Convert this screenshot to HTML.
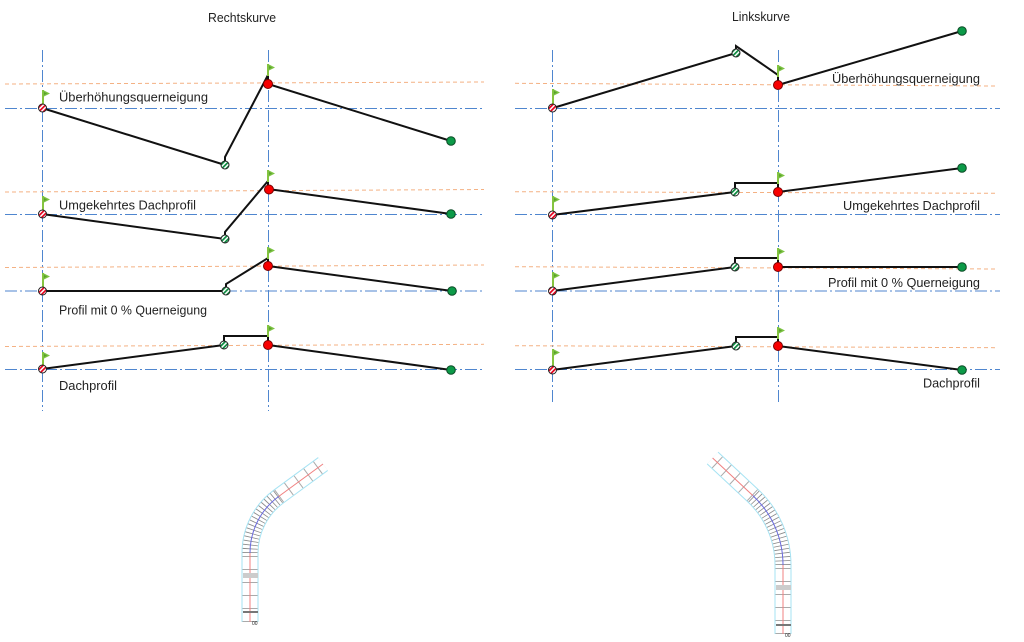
<!DOCTYPE html>
<html><head><meta charset="utf-8"><style>
html,body{margin:0;padding:0;background:#fff;}
svg{display:block;}
text{font-family:"Liberation Sans",sans-serif;font-size:13px;fill:#222;}
</style></head><body>
<svg width="1024" height="642" viewBox="0 0 1024 642" xmlns="http://www.w3.org/2000/svg">
<defs>
<pattern id="hr" patternUnits="userSpaceOnUse" width="3.2" height="3.2" patternTransform="rotate(45)"><rect width="3.2" height="3.2" fill="#fff"/><rect width="1.7" height="3.2" fill="#e4001b"/></pattern>
<pattern id="hg" patternUnits="userSpaceOnUse" width="3.2" height="3.2" patternTransform="rotate(45)"><rect width="3.2" height="3.2" fill="#fff"/><rect width="1.7" height="3.2" fill="#0a8a3e"/></pattern>
<g id="flag"><line x1="0" y1="0" x2="0" y2="12" stroke="#86c440" stroke-width="2"/><path d="M0,0 L7,3.5 L0,7 Z" fill="#7cc242"/><path d="M1,2 L4,3.5 L1,5Z" fill="#5aa02c"/></g>
<g id="sflag"><line x1="0" y1="0" x2="0" y2="17" stroke="#86c440" stroke-width="2"/><path d="M0,0 L7,3.5 L0,7 Z" fill="#7cc242"/><path d="M1,2 L4,3.5 L1,5Z" fill="#5aa02c"/></g>
</defs>

<text x="208" y="22" textLength="68" lengthAdjust="spacingAndGlyphs">Rechtskurve</text>
<text x="732" y="21" textLength="58" lengthAdjust="spacingAndGlyphs">Linkskurve</text>

<g stroke="#4f86cf" stroke-width="1" stroke-dasharray="12 3 2 3" fill="none">
<line x1="42.5" y1="50" x2="42.5" y2="411"/>
<line x1="268.5" y1="50" x2="268.5" y2="411"/>
<line x1="552.5" y1="50" x2="552.5" y2="405"/>
<line x1="778.5" y1="50" x2="778.5" y2="405"/>
<line x1="5" y1="108.5" x2="484" y2="108.5"/>
<line x1="5" y1="214.5" x2="484" y2="214.5"/>
<line x1="5" y1="291" x2="484" y2="291"/>
<line x1="5" y1="369.5" x2="484" y2="369.5"/>
<line x1="515" y1="108.5" x2="1000" y2="108.5"/>
<line x1="515" y1="214.5" x2="1000" y2="214.5"/>
<line x1="515" y1="291" x2="1000" y2="291"/>
<line x1="515" y1="369.5" x2="1000" y2="369.5"/>
</g>
<g stroke="#f4b183" stroke-width="1" stroke-dasharray="4 3" fill="none">
<line x1="5" y1="84" x2="484" y2="82"/>
<line x1="5" y1="192" x2="484" y2="189.5"/>
<line x1="5" y1="267.5" x2="484" y2="265"/>
<line x1="5" y1="346.5" x2="484" y2="344.3"/>
<line x1="515" y1="83.3" x2="995" y2="86"/>
<line x1="515" y1="191.7" x2="995" y2="193.3"/>
<line x1="515" y1="266.7" x2="995" y2="269"/>
<line x1="515" y1="345.7" x2="995" y2="347.7"/>
</g>

<g stroke="#111" stroke-width="2" fill="none" stroke-linejoin="miter">
<path d="M42,108 L225,165 L225,157 L268,75 L268,84 L451,141"/>
<path d="M42,214 L225,239 L225,232 L268,181 L268,189 L451,214"/>
<path d="M42,291 L226,291 L226,284 L268,258 L268,266 L452,291"/>
<path d="M42,369 L224,345 L224,336 L268,336 L268,345 L451,370"/>
<path d="M553,108 L736,53 L736,46 L778,75 L778,85 L962,31"/>
<path d="M552,215 L735,192 L735,183 L778,183 L778,192 L962,168"/>
<path d="M552,291 L735,267 L735,258 L778,258 L778,267 L962,267"/>
<path d="M552,370 L736,346 L736,337 L778,337 L778,346 L962,370"/>
</g>

<use href="#sflag" x="43" y="90"/>
<use href="#sflag" x="43" y="196"/>
<use href="#sflag" x="43" y="273"/>
<use href="#sflag" x="43" y="352"/>
<use href="#sflag" x="553" y="89"/>
<use href="#sflag" x="553" y="196"/>
<use href="#sflag" x="553" y="272"/>
<use href="#sflag" x="553" y="349"/>
<use href="#flag" x="268" y="64"/>
<use href="#flag" x="268" y="170"/>
<use href="#flag" x="268" y="247"/>
<use href="#flag" x="268" y="325"/>
<use href="#flag" x="778" y="65"/>
<use href="#flag" x="778" y="172"/>
<use href="#flag" x="778" y="248"/>
<use href="#flag" x="778" y="327"/>

<g stroke="#222" stroke-width="1">
<circle cx="42.5" cy="108" r="4" fill="url(#hr)"/>
<circle cx="42.5" cy="214" r="4" fill="url(#hr)"/>
<circle cx="42.5" cy="291" r="4" fill="url(#hr)"/>
<circle cx="42.5" cy="369" r="4" fill="url(#hr)"/>
<circle cx="552.5" cy="108" r="4" fill="url(#hr)"/>
<circle cx="552.5" cy="215" r="4" fill="url(#hr)"/>
<circle cx="552.5" cy="291" r="4" fill="url(#hr)"/>
<circle cx="552.5" cy="370" r="4" fill="url(#hr)"/>
<circle cx="225" cy="165" r="4" fill="url(#hg)"/>
<circle cx="225" cy="239" r="4" fill="url(#hg)"/>
<circle cx="226" cy="291" r="4" fill="url(#hg)"/>
<circle cx="224" cy="345" r="4" fill="url(#hg)"/>
<circle cx="736" cy="53" r="4" fill="url(#hg)"/>
<circle cx="735" cy="192" r="4" fill="url(#hg)"/>
<circle cx="735" cy="267" r="4" fill="url(#hg)"/>
<circle cx="736" cy="346" r="4" fill="url(#hg)"/>
</g>
<g stroke="#7a0000" stroke-width="1" fill="#f80000">
<circle cx="268" cy="84" r="4.5"/>
<circle cx="269" cy="189.5" r="4.5"/>
<circle cx="268" cy="266" r="4.5"/>
<circle cx="268" cy="345" r="4.5"/>
<circle cx="778" cy="85" r="4.5"/>
<circle cx="778" cy="192" r="4.5"/>
<circle cx="778" cy="267" r="4.5"/>
<circle cx="778" cy="346" r="4.5"/>
</g>
<g stroke="#0b4a25" stroke-width="1" fill="#0c9a48">
<circle cx="451" cy="141" r="4.3"/>
<circle cx="451" cy="214" r="4.3"/>
<circle cx="452" cy="291" r="4.3"/>
<circle cx="451" cy="370" r="4.3"/>
<circle cx="962" cy="31" r="4.3"/>
<circle cx="962" cy="168" r="4.3"/>
<circle cx="962" cy="267" r="4.3"/>
<circle cx="962" cy="370" r="4.3"/>
</g>

<text x="59" y="101.5" textLength="149" lengthAdjust="spacingAndGlyphs">Überhöhungsquerneigung</text>
<text x="59" y="209.5" textLength="137" lengthAdjust="spacingAndGlyphs">Umgekehrtes Dachprofil</text>
<text x="59" y="314.3" textLength="148" lengthAdjust="spacingAndGlyphs">Profil mit 0 % Querneigung</text>
<text x="59" y="390" textLength="58" lengthAdjust="spacingAndGlyphs">Dachprofil</text>
<text x="832" y="83" textLength="148" lengthAdjust="spacingAndGlyphs">Überhöhungsquerneigung</text>
<text x="843" y="210" textLength="137" lengthAdjust="spacingAndGlyphs">Umgekehrtes Dachprofil</text>
<text x="828" y="287" textLength="152" lengthAdjust="spacingAndGlyphs">Profil mit 0 % Querneigung</text>
<text x="923" y="387.5" textLength="57" lengthAdjust="spacingAndGlyphs">Dachprofil</text>

<!-- left road -->
<g fill="none">
<path d="M250,622 L250,553 A70,70 0 0 1 278.8,496.4 L323,464" stroke="#a6e3f3" stroke-width="17"/>
<path d="M250,622 L250,553 A70,70 0 0 1 278.8,496.4 L323,464" stroke="#fff" stroke-width="15"/>
<path d="M250,622 L250,553" stroke="#aaa" stroke-width="15" stroke-dasharray="1 12"/>
<path d="M250,553 A70,70 0 0 1 278.8,496.4" stroke="#888" stroke-width="15" stroke-dasharray="0.8 3"/>
<path d="M278.8,496.4 L323,464" stroke="#aaa" stroke-width="15" stroke-dasharray="1 11"/>
<path d="M250,622 L250,553" stroke="#f08080" stroke-width="1"/>
<path d="M250,553 A70,70 0 0 1 278.8,496.4" stroke="#6a6ae0" stroke-width="1"/>
<path d="M278.8,496.4 L323,464" stroke="#f08080" stroke-width="1"/>
<rect x="243" y="573" width="15" height="5" fill="#ccc"/>
<rect x="243" y="611" width="15" height="2" fill="#777"/>
<text x="252" y="625" style="font-size:5px">00</text>
</g>
<!-- right road -->
<g fill="none">
<path d="M783,634 L783,565 A95,95 0 0 0 752.8,495.5 L712.6,458" stroke="#a6e3f3" stroke-width="17"/>
<path d="M783,634 L783,565 A95,95 0 0 0 752.8,495.5 L712.6,458" stroke="#fff" stroke-width="15"/>
<path d="M783,634 L783,565" stroke="#aaa" stroke-width="15" stroke-dasharray="1 12"/>
<path d="M783,565 A95,95 0 0 0 752.8,495.5" stroke="#888" stroke-width="15" stroke-dasharray="0.8 3"/>
<path d="M752.8,495.5 L712.6,458" stroke="#aaa" stroke-width="15" stroke-dasharray="1 11"/>
<path d="M783,634 L783,565" stroke="#f08080" stroke-width="1"/>
<path d="M783,565 A95,95 0 0 0 752.8,495.5" stroke="#6a6ae0" stroke-width="1"/>
<path d="M752.8,495.5 L712.6,458" stroke="#f08080" stroke-width="1"/>
<rect x="776" y="585" width="15" height="5" fill="#ccc"/>
<rect x="776" y="624" width="15" height="2" fill="#777"/>
<text x="785" y="637" style="font-size:5px">00</text>
</g>
</svg>
</body></html>
